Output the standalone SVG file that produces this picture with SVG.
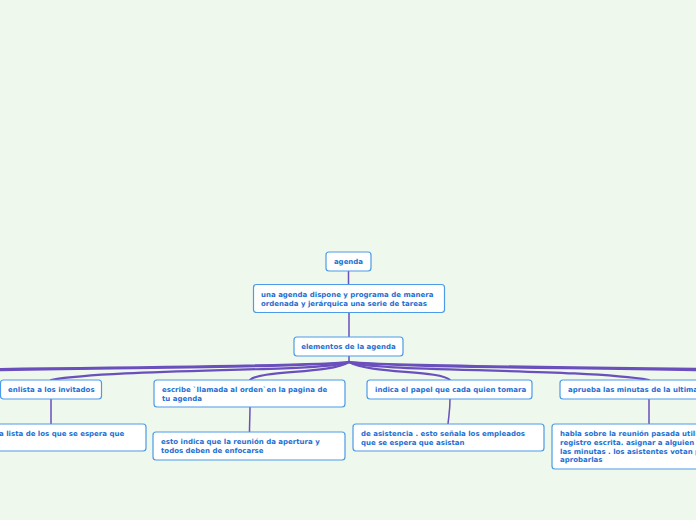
<svg xmlns="http://www.w3.org/2000/svg" width="696" height="520" viewBox="0 0 696 520">
<style>
.bg{fill:#eef8ec}
.n rect{fill:#ffffff;stroke:#4c9be8;stroke-width:1.2}
.n text{font-family:"DejaVu Sans",Verdana,sans-serif;font-weight:bold;font-size:7px;fill:#1e6fd2}
.c path{fill:none;stroke:#6a4fbd;stroke-linecap:round}
.t{stroke-width:1.5}
.b{stroke-width:2.2}
</style>
<rect class="bg" x="0" y="0" width="696" height="520"/>
<g class="c" id="connectors">
<path class="t" d="M348.5,271 L348.5,284"/>
<path class="t" d="M349,312 L349,337"/>
<path class="t" d="M349,356 L349,362"/>
<path class="b" d="M349,362 C330,372 120,368 51,380"/>
<path class="b" d="M349,362 C330,374 260,370 250,380"/>
<path class="b" d="M349,362 C370,374 440,370 450,380"/>
<path class="b" d="M349,362 C370,372 580,368 649,380"/>
<path class="b" d="M349,362 C300,370 -100,366 -250,380"/>
<path class="b" d="M349,362 C300,369 -300,368 -450,380"/>
<path class="b" d="M349,362 C400,370 800,366 950,380"/>
<path class="b" d="M349,362 C400,369 1000,368 1150,380"/>
<path class="t" d="M51,399 L51,424"/>
<path class="t" d="M250,407 C250,415 249.5,424 249.5,432"/>
<path class="t" d="M450,399 C450,410 449,414 448,424"/>
<path class="t" d="M649,399 L649,424"/>
</g>
<g class="n" id="agenda"><rect x="326" y="252" width="45" height="19" rx="3"/><text x="348.5" y="264" text-anchor="middle">agenda</text></g>
<g class="n" id="def"><rect x="253.5" y="284.5" width="191" height="28" rx="3"/><text x="261" y="297">una agenda dispone y programa de manera</text><text x="261" y="306">ordenada y jerárquica una serie de tareas</text></g>
<g class="n" id="elementos"><rect x="294" y="337" width="109" height="19" rx="3"/><text x="348.5" y="349" text-anchor="middle">elementos de la agenda</text></g>
<g class="n" id="enlista"><rect x="0.5" y="380" width="101" height="19" rx="3"/><text x="8" y="392">enlista a los invitados</text></g>
<g class="n" id="escribe"><rect x="154" y="380" width="191" height="27" rx="3"/><text x="162" y="392">escribe `llamada al orden`en la pagina de</text><text x="162" y="401">tu agenda</text></g>
<g class="n" id="indica"><rect x="367" y="380" width="165" height="19" rx="3"/><text x="375" y="392">indica el papel que cada quien tomara</text></g>
<g class="n" id="aprueba"><rect x="560" y="380" width="200" height="19" rx="3"/><text x="568" y="392">aprueba las minutas de la ultima</text></g>
<g class="n" id="lista"><rect x="-150" y="424" width="296" height="27" rx="3"/><text x="-1" y="436">a lista de los que se espera que</text></g>
<g class="n" id="apertura"><rect x="153" y="432" width="192" height="28" rx="3"/><text x="161" y="444">esto indica que la reunión da apertura y</text><text x="161" y="453">todos deben de enfocarse</text></g>
<g class="n" id="asistencia"><rect x="353" y="424" width="191" height="27" rx="3"/><text x="361" y="436">de asistencia . esto señala los empleados</text><text x="361" y="445">que se espera que asistan</text></g>
<g class="n" id="habla"><rect x="552" y="424" width="200" height="45" rx="3"/><text x="560" y="436">habla sobre la reunión pasada utili</text><text x="560" y="445">registro escrita. asignar a alguien</text><text x="560" y="453.5">las minutas . los asistentes votan p</text><text x="560" y="462">aprobarlas</text></g>
</svg>
